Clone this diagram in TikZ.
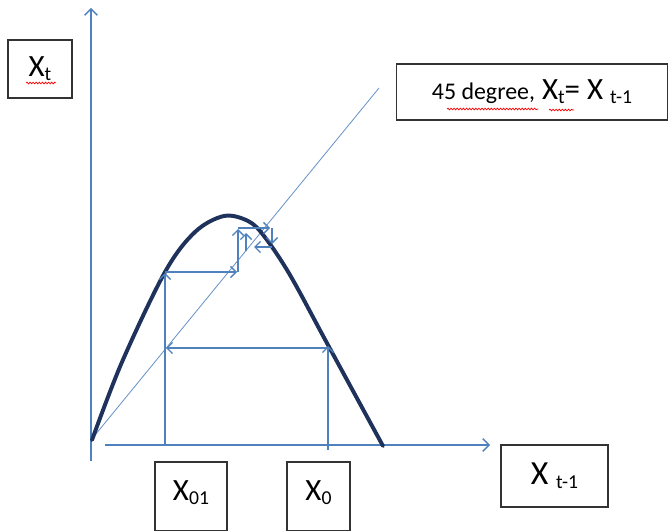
\documentclass[tikz,border=0pt]{standalone}
\usepackage{fontspec}
\setmainfont{Carlito}
\usetikzlibrary{arrows.meta,decorations.pathmorphing}
\definecolor{axisblue}{RGB}{79,129,189}
\definecolor{curvenavy}{RGB}{31,50,92}
\newcommand{\lowsub}[1]{\raisebox{-3pt}{\fontsize{14}{14}\selectfont #1}}

\begin{document}
\begin{tikzpicture}[x=0.025cm,y=-0.025cm,
  axisline/.style={axisblue,line width=1pt,-{Straight Barb[length=4.5pt,width=9pt]}},
  webarrow/.style={axisblue,line width=0.9pt,-{Straight Barb[length=4pt,width=8pt]}},
  lblbox/.style={draw=black!80,line width=0.9pt,inner sep=0pt,font=\fontsize{22}{26}\selectfont},
  spell/.style={red,line width=0.5pt,decorate,decoration={snake,amplitude=0.6pt,segment length=2.2pt}}]
  \useasboundingbox (0,0) rectangle (671,531);
  \draw[axisline] (91,461) -- (91,8);
  \draw[axisline] (105,445) -- (490,445);
  \draw[axisblue!85,line width=0.6pt] (91,440) -- (379,88);
  \draw[curvenavy,line width=2.8pt,line cap=round] plot[smooth,tension=0.55]
    coordinates {(92,440) (122,362) (165,272) (195,232) (224,216)
    (248,221) (264,236) (290,275) (328,345) (383,446)};
  \foreach \a/\b/\c/\d in {328/450/328/346, 328/348/166/348, 165/445/165/273,
    165/272/237/272, 238/272/238/229, 238/228/270/228, 272/228/272/244,
    272/247/254/247, 246/251/246/233}
    {\draw[webarrow] (\a,\b) -- (\c,\d);}
  \node[lblbox,minimum width=1.6cm,minimum height=1.45cm] (ytitle) at (40,69) {X\lowsub{t}};
  \node[lblbox,minimum width=6.775cm,minimum height=1.4cm] (diagtitle) at (532,92)
    {{\fontsize{17}{20}\selectfont 45 degree,} X\lowsub{t}= X \lowsub{t-1}};
  \node[lblbox,minimum width=1.8cm,minimum height=1.725cm,text height=12pt,text depth=7pt]
    (xzeroone) at (191,496.5) {X\lowsub{01}};
  \node[lblbox,minimum width=1.575cm,minimum height=1.725cm,text height=12pt,text depth=7pt]
    (xzero) at (318.5,496.5) {X\lowsub{0}};
  \node[lblbox,minimum width=2.675cm,minimum height=1.55cm,font=\fontsize{24}{28}\selectfont]
    (xtitle) at (554.5,476) {X \lowsub{t-1}};
  \draw[spell] (26,83) -- (56,83);
  \draw[spell] (447,109) -- (538,109);
  \draw[spell] (549,110) -- (574,110);
\end{tikzpicture}
\end{document}
